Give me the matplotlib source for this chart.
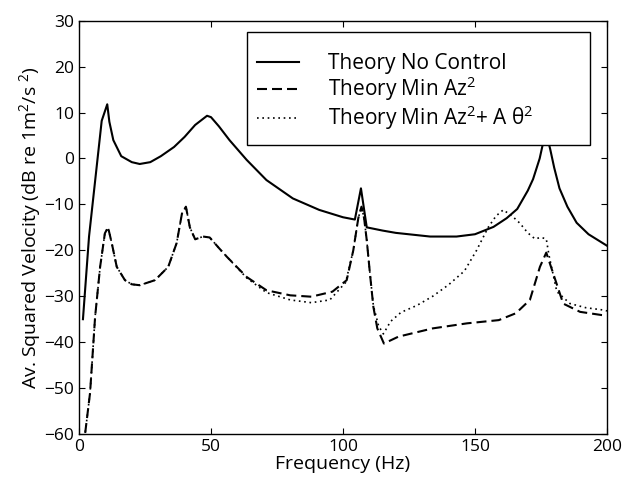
import numpy as np
import matplotlib
matplotlib.use('Agg')
import matplotlib.pyplot as plt
from matplotlib.patches import Rectangle

plt.rcParams['font.family'] = ['Open Sans', 'DejaVu Sans']
plt.rcParams['mathtext.fontset'] = 'custom'
plt.rcParams['mathtext.rm'] = 'Open Sans'

# Theory, no control
f_nc = [1.5, 3.8, 8.6, 10.7, 11.5, 13, 16, 20, 23, 27, 31, 36, 40, 44, 48.5,
        50, 53, 57, 63.5, 71, 81, 91, 100, 104.5, 106.8, 109, 115, 120, 133,
        143, 150, 157, 162, 166, 170, 172, 174.5, 176.8, 178.5, 180, 182, 185,
        188.5, 193, 200]
db_nc = [-35, -17, 8.2, 11.8, 8, 4, 0.5, -0.8, -1.2, -0.8, 0.5, 2.5, 4.7, 7.3,
         9.3, 9.0, 7, 4, -0.3, -4.7, -8.7, -11.2, -12.8, -13.3, -6.5, -15,
         -15.7, -16.2, -17, -17, -16.5, -14.9, -13, -11, -7, -4.5, 0, 6, 2, -2,
         -6.5, -10.5, -14, -16.5, -19]

# Theory, min Az^2
f_az = [1.5, 2.3, 4.2, 6.1, 8, 9.8, 11, 12.4, 14.3, 17.4, 20, 23, 28.8, 33.8,
        37, 39, 40.5, 42, 44, 47, 49.5, 53, 56, 63.5, 71, 80, 88, 96, 101.4,
        103.9, 105.8, 107, 108, 109, 110.2, 111.5, 113, 115.5, 121, 134, 147,
        159, 165.5, 170.8, 174.6, 177, 179.6, 183.4, 189.8, 198, 200]
db_az = [-63, -60, -51, -34.5, -23.6, -16.3, -15, -18.4, -23.6, -26.5, -27.4,
         -27.6, -26.5, -23.6, -18.4, -12, -10.5, -15, -17.6, -17, -17.2, -19.5,
         -21.4, -25.8, -28.7, -29.8, -30.1, -29, -26.5, -20, -13, -10.5, -13,
         -17.8, -25, -32.3, -37, -40.3, -38.8, -37, -35.9, -35.2, -33.7, -30.8,
         -23.6, -20.5, -25, -31.6, -33.4, -34.1, -34.2]

# Theory, min Az^2 + A theta^2
f_at = [1.5, 2.3, 4.2, 6.1, 8, 9.8, 11, 12.4, 14.3, 17.4, 20, 23, 28.8, 33.8,
        37, 39, 40.5, 42, 44, 47, 49.5, 53, 56, 63.5, 71, 80, 88, 95, 101,
        103.9, 105.8, 107, 108, 109, 110.2, 111.5, 113.5, 115.3, 118, 122, 128,
        134, 140, 146, 150.6, 155, 158, 160.7, 164, 167, 170, 172.7, 175, 177,
        178, 181, 186, 192, 198.6, 200]
db_at = [-63, -60, -51, -34.5, -23.6, -16.3, -15, -18.4, -23.6, -26.5, -27.4,
         -27.6, -26.5, -23.6, -18.4, -12, -10.5, -15, -17.6, -17, -17.2, -19.5,
         -21.4, -26, -29.2, -30.8, -31.4, -30.8, -27, -20, -13, -10.5, -13,
         -17.8, -25, -32, -36.5, -38.2, -35.5, -33.5, -32, -30, -27.5, -24.5,
         -20, -15, -12.5, -11.2, -12.5, -14.1, -16.2, -17.5, -17.2, -17.5, -21,
         -29, -31.6, -32.5, -33, -33.2]

labels = ['Theory No Control',
          r'Theory Min Az$\mathregular{^2}$',
          r'Theory Min Az$\mathregular{^2}$+ A $\mathregular{\theta^2}$']

fig = plt.figure(figsize=(6.23, 4.84), dpi=100)
ax = fig.add_axes([0.1268, 0.1033, 0.8475, 0.8539])

ax.plot(f_nc, db_nc, color='black', lw=1.5, label=labels[0])
ax.plot(f_az, db_az, color='black', lw=1.5, dashes=(4.8, 2.4), label=labels[1])
ax.plot(f_at, db_at, color='black', lw=1.2, dashes=(1, 2.2), label=labels[2])

ax.set_xlim(0, 200)
ax.set_ylim(-60, 30)
ax.set_xticks([0, 50, 100, 150, 200])
ax.set_yticks(np.arange(-60, 31, 10))
ax.tick_params(direction='in', length=4, top=True, right=True, labelsize=12.5)
for s in ax.spines.values():
    s.set_linewidth(1.0)

ax.set_xlabel('Frequency (Hz)', fontsize=14, labelpad=0)
ax.set_ylabel(r'Av. Squared Velocity (dB re 1m$\mathregular{^2}$/s $\mathregular{^2}$)',
              fontsize=14, labelpad=1)

# legend box drawn separately so the padding matches the original
ax.add_patch(Rectangle((0.318, 0.699), 0.65, 0.274, transform=ax.transAxes,
                       facecolor='white', edgecolor='black', lw=1.0, zorder=4))
leg = ax.legend(loc='center left', bbox_to_anchor=(0.337, 0.826),
                fontsize=15, handlelength=2.0, handletextpad=1.4,
                labelspacing=0.02, borderpad=0, borderaxespad=0,
                frameon=False)
leg.set_zorder(5)

fig.savefig('out.png', dpi=100)
